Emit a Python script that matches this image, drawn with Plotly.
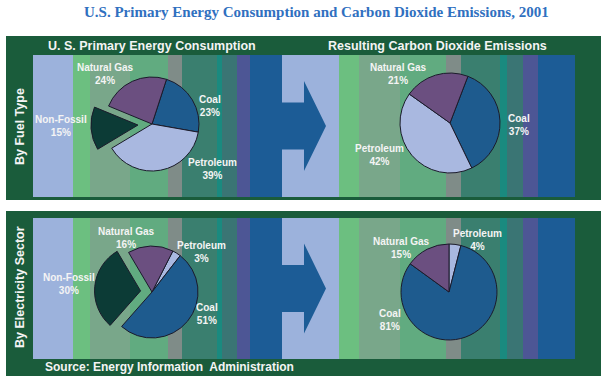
import plotly.graph_objects as go

W, H = 607, 381

# ---------------- data ----------------
title_text = "U.S. Primary Energy Consumption and Carbon Dioxide Emissions, 2001"
left_header = "U. S. Primary Energy Consumption"
right_header = "Resulting Carbon Dioxide Emissions"
row_labels = ["By Fuel Type", "By Electricity Sector"]
source_text = "Source: Energy Information  Administration"

fuel_energy_labels = ["Coal", "Petroleum", "Non-Fossil", "Natural Gas"]
fuel_energy_values = [23, 39, 15, 24]
fuel_co2_labels = ["Coal", "Petroleum", "Natural Gas"]
fuel_co2_values = [37, 42, 21]
elec_energy_labels = ["Petroleum", "Coal", "Non-Fossil", "Natural Gas"]
elec_energy_values = [3, 51, 30, 16]
elec_co2_labels = ["Petroleum", "Coal", "Natural Gas"]
elec_co2_values = [4, 81, 15]

# ---------------- styles ----------------
slice_colors = {"Coal": "#1e5b8e", "Petroleum": "#a9b8e0",
                "Natural Gas": "#6b4f80", "Non-Fossil": "#0c3b36"}
panel_color = "#1a5c3b"
stripe_colors = ["#9cb2dc", "#6cbf80", "#79a78a", "#61ab80", "#7f8c88",
                 "#3a7f6f", "#1a8a7f", "#3a7574", "#4d5695", "#1c5c96"]
stripe_edges_left = [33, 73, 90, 130, 168, 182, 217, 222, 237, 250, 282]
stripe_edges_right = [282, 339, 359, 400, 446, 461, 500, 507, 523, 538, 575]
panels = [(36, 200, 55, 197), (211, 376, 218, 359)]  # panel top/bottom, stripe top/bottom
SANS = "Arial, Liberation Sans, sans-serif"


def px(x):
    return x / W


def py(y):
    return 1 - y / H


shapes = []
for (pt, pb, st, sb) in panels:
    shapes.append(dict(type="rect", xref="paper", yref="paper", x0=px(6), x1=px(601),
                       y0=py(pb), y1=py(pt), fillcolor=panel_color, line_width=0, layer="below"))
    for edges in (stripe_edges_left, stripe_edges_right):
        for i, c in enumerate(stripe_colors):
            shapes.append(dict(type="rect", xref="paper", yref="paper",
                               x0=px(edges[i]), x1=px(edges[i + 1]),
                               y0=py(sb), y1=py(st), fillcolor=c, line_width=0, layer="below"))
    cy = (st + sb) / 2
    pts = [(282, cy - 23.5), (304, cy - 23.5), (304, cy - 45), (326, cy),
           (304, cy + 45), (304, cy + 23.5), (282, cy + 23.5)]
    path = "M " + " L ".join(f"{px(x):.5f},{py(y):.5f}" for x, y in pts) + " Z"
    shapes.append(dict(type="path", xref="paper", yref="paper", path=path,
                       fillcolor="#1c5c96", line_width=0, layer="below"))

fig = go.Figure()


def add_pie(labels, values, cx, cy, r, rotation, pulls):
    p = max(pulls)
    s = 2 * r * (1 + p)
    fig.add_trace(go.Pie(
        labels=labels, values=values, sort=False, direction="clockwise",
        rotation=rotation, pull=pulls, textinfo="none", hoverinfo="label+percent",
        marker=dict(colors=[slice_colors[l] for l in labels],
                    line=dict(color="#1b1b2b", width=1)),
        domain=dict(x=[px(cx - s / 2), px(cx + s / 2)], y=[py(cy + s / 2), py(cy - s / 2)]),
        showlegend=False))


add_pie(fuel_energy_labels, fuel_energy_values, 152, 124, 47, 18, [0, 0, 0.3, 0])
add_pie(fuel_co2_labels, fuel_co2_values, 450, 123, 50, 21, [0, 0, 0])
add_pie(elec_energy_labels, elec_energy_values, 152, 292, 46, 27, [0, 0, 0.25, 0])
add_pie(elec_co2_labels, elec_co2_values, 449, 292, 48, 0, [0, 0, 0])

annotations = []


def label(text, x, y, size=10, angle=0, xanchor="center", color="#f4f4f4"):
    annotations.append(dict(text=text, x=px(x), y=py(y), xref="paper", yref="paper",
                            showarrow=False, xanchor=xanchor, yanchor="middle",
                            textangle=angle,
                            font=dict(family=SANS, size=size, color=color)))


label(f"<b>{title_text}</b>", 316, 12, 15, color="#3070c0")
annotations[-1]["font"]["family"] = "Liberation Serif, Times New Roman, serif"
label(f"<b>{left_header}</b>", 152, 46, 12.5)
label(f"<b>{right_header}</b>", 437, 46, 12.5)
label(f"<b>{row_labels[0]}</b>", 20, 127, 12.5, angle=-90)
label(f"<b>{row_labels[1]}</b>", 20, 287, 12.5, angle=-90)
label(f"<b>{source_text}</b>", 43, 367, 12, xanchor="left")

pos = {
    0: {"Natural Gas": (105, 74), "Coal": (210, 106), "Non-Fossil": (61, 126), "Petroleum": (212, 169)},
    1: {"Natural Gas": (398, 74), "Coal": (519, 125), "Petroleum": (379, 155)},
    2: {"Natural Gas": (126, 238), "Petroleum": (202, 252), "Non-Fossil": (69, 284), "Coal": (207, 314)},
    3: {"Natural Gas": (401, 248), "Petroleum": (477, 240), "Coal": (390, 320)},
}
datasets = [(fuel_energy_labels, fuel_energy_values), (fuel_co2_labels, fuel_co2_values),
            (elec_energy_labels, elec_energy_values), (elec_co2_labels, elec_co2_values)]
for k, (labs, vals) in enumerate(datasets):
    for l, v in zip(labs, vals):
        x, y = pos[k][l]
        label(f"<b>{l}<br>{v}%</b>", x, y, 10)

fig.update_layout(width=W, height=H, margin=dict(l=0, r=0, t=0, b=0),
                  paper_bgcolor="white", plot_bgcolor="white",
                  shapes=shapes, annotations=annotations)

fig.write_html("out.html", config={"displayModeBar": False},
               post_script="document.body.style.margin='0';")
